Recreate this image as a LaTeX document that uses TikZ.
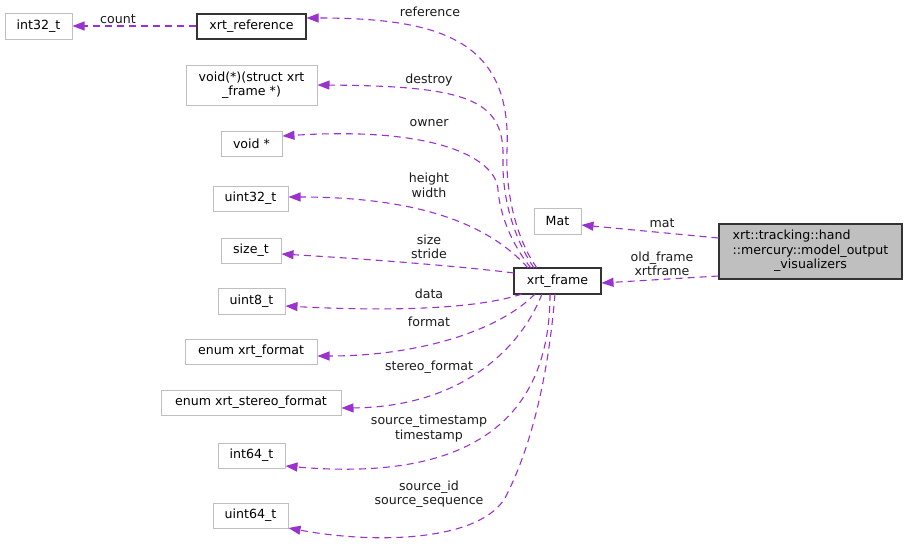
\documentclass[tikz,border=0pt]{standalone}
\usepackage{fontspec}
\setmainfont{DejaVu Sans}
\usetikzlibrary{arrows.meta}
\definecolor{edgecol}{HTML}{9A32CD}
\definecolor{greyb}{HTML}{BFBFBF}
\definecolor{labcol}{HTML}{1A1A1A}
\begin{document}
\begin{tikzpicture}[x=1pt,y=-1pt,
  every node/.style={font=\fontsize{12.6}{14.5}\selectfont, inner sep=0pt, align=center},
  tbox/.style={draw=greyb, line width=1pt, fill=white, text=black},
  bbox/.style={draw=black!80, line width=1.1pt, fill=white, text=black},
  mbox/.style={draw=black!80, line width=1.1pt, fill=greyb, text=black},
  edge/.style={draw=edgecol, line width=1.1pt, dash pattern=on 7pt off 5pt,
    -{Triangle[length=12pt,width=9pt,fill=edgecol]}},
  lab/.style={text=labcol}]
\useasboundingbox (0,0) rectangle (907,546);

% nodes
\node[tbox, minimum width=67pt, minimum height=26pt] (int32) at (38.5,26) {int32\_t};
\node[bbox, minimum width=109pt, minimum height=25pt] (xref) at (251.5,26.5) {xrt\_reference};
\node[tbox, minimum width=131pt, minimum height=40pt] (voidfn) at (251.5,85) {void(*)(struct xrt\\\_frame *)};
\node[tbox, minimum width=61pt, minimum height=25pt] (voidp) at (251.5,143.5) {void *};
\node[tbox, minimum width=75pt, minimum height=25pt] (uint32) at (250.5,198.5) {uint32\_t};
\node[tbox, minimum width=60pt, minimum height=25pt] (sizet) at (251,250.5) {size\_t};
\node[tbox, minimum width=67pt, minimum height=26pt] (uint8) at (251.5,301) {uint8\_t};
\node[tbox, minimum width=132pt, minimum height=25pt] (efmt) at (251,351.5) {enum xrt\_format};
\node[tbox, minimum width=180pt, minimum height=25pt] (estereo) at (251,402.5) {enum xrt\_stereo\_format};
\node[tbox, minimum width=67pt, minimum height=25pt] (int64) at (251.5,455.5) {int64\_t};
\node[tbox, minimum width=75pt, minimum height=25pt] (uint64) at (250.5,515.5) {uint64\_t};
\node[tbox, minimum width=47pt, minimum height=26pt] (mat) at (557.5,221) {Mat};
\node[mbox, minimum width=183pt, minimum height=55pt] (main) at (810.5,251.5)
  {\begin{tabular}{@{}l@{}}xrt::tracking::hand\\::mercury::model\_output\\\multicolumn{1}{@{}c@{}}{\_visualizers}\end{tabular}};
\node[bbox, minimum width=87pt, minimum height=26pt] (fr) at (557.5,281) {xrt\_frame};

% coordinates on xrt_frame border
\coordinate (sRef) at (537,268);
\coordinate (sDes) at (534,268);
\coordinate (sOwn) at (531,268);
\coordinate (sHW) at (528,268);
\coordinate (sSS) at (514,273);
\coordinate (sDat) at (522,294);
\coordinate (sFmt) at (535,294);
\coordinate (sSt) at (542,294);
\coordinate (sTs) at (550,294);
\coordinate (sId) at (555,294);

% edges
\draw[edge] (xref.west |- 0,26) -- (int32.east |- 0,26);
\draw[edge] (sRef) .. controls (520,245) and (505,200) .. (507,150)
  .. controls (512,40) and (440,18) .. (xref.east |- 0,18);
\draw[edge] (sDes) .. controls (515,240) and (502,200) .. (503,160)
  .. controls (505,100) and (470,86) .. (voidfn.east |- 0,85);
\draw[edge] (sOwn) .. controls (512,245) and (500,215) .. (498,190)
  .. controls (497,160) and (440,126) .. (voidp.east |- 0,136);
\draw[edge] (sHW) .. controls (490,225) and (420,197) .. (uint32.east |- 0,197);
\draw[edge] (sSS) .. controls (450,265) and (350,258) .. (sizet.east |- 0,254);
\draw[edge] (sDat) .. controls (480,308) and (400,312) .. (uint8.east |- 0,306);
\draw[edge] (sFmt) .. controls (500,330) and (420,356) .. (efmt.east |- 0,356);
\draw[edge] (sSt) .. controls (520,350) and (460,407) .. (estereo.east |- 0,408);
\draw[edge] (sTs) .. controls (550,420) and (470,482) .. (int64.east |- 0,466);
\draw[edge] (sId) .. controls (548,380) and (530,450) .. (505,498)
  .. controls (480,540) and (380,545) .. (uint64.east |- 0,528);
\draw[edge] (main.west |- 0,238) -- (mat.east |- 0,225);
\draw[edge] (main.west |- 0,276) -- (fr.east |- 0,283);

% labels
\node[lab] (lcount) at (118,19) {count};
\node[lab] (lref) at (430,12) {reference};
\node[lab] (ldes) at (429,80) {destroy};
\node[lab] (lown) at (429,123) {owner};
\node[lab] (lhw) at (429,185.5) {height\\width};
\node[lab] (lss) at (429,247) {size\\stride};
\node[lab] (ldat) at (429,294) {data};
\node[lab] (lfmt) at (429,322) {format};
\node[lab] (lst) at (429,367) {stereo\_format};
\node[lab] (lts) at (429,428.5) {source\_timestamp\\timestamp};
\node[lab] (lid) at (429,494) {source\_id\\source\_sequence};
\node[lab] (lmat) at (662,223) {mat};
\node[lab] (lold) at (662,264) {old\_frame\\xrtframe};
\end{tikzpicture}
\end{document}
